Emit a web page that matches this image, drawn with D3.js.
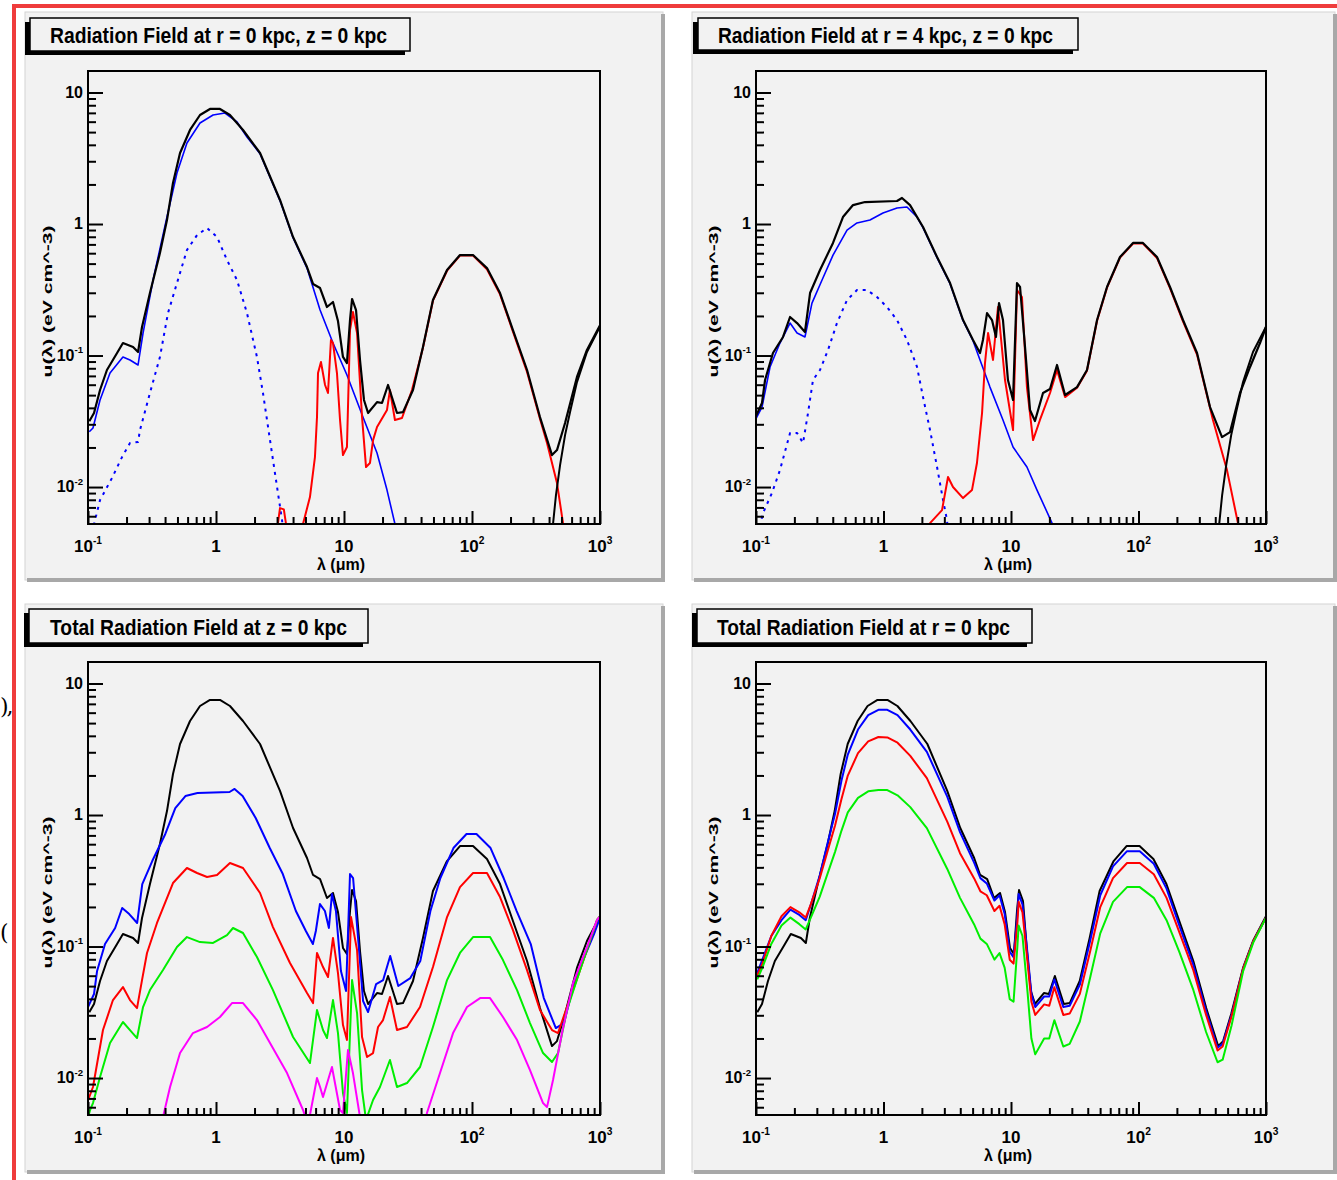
<!DOCTYPE html>
<html>
<head>
<meta charset="utf-8">
<script src="https://cdn.jsdelivr.net/npm/d3@7"></script>
<style>
  body { margin: 0; background: #fff; }
  svg text { font-family: "Liberation Sans Narrow", "Arial Narrow", "Liberation Sans", Arial, sans-serif; font-weight: bold; fill: #000; }
</style>
</head>
<body>
<script>
// All series: [log10 lambda (um), log10 u (eV cm^-3)]

// total field at r = 0 kpc, z = 0 kpc
var totalR0 = [[-0.99,-1.50],[-0.953,-1.437],[-0.906,-1.262],[-0.852,-1.110],[-0.773,-0.981],[-0.727,-0.905],[-0.648,-0.935],[-0.609,-0.973],[-0.578,-0.783],[-0.516,-0.525],[-0.438,-0.221],[-0.383,0.030],[-0.336,0.312],[-0.281,0.540],[-0.203,0.715],[-0.125,0.829],[-0.047,0.875],[0.031,0.875],[0.109,0.829],[0.211,0.715],[0.344,0.540],[0.500,0.183],[0.602,-0.099],[0.711,-0.327],[0.758,-0.456],[0.813,-0.487],[0.867,-0.631],[0.914,-0.593],[0.953,-0.738],[0.992,-1.011],[1.023,-1.057],[1.047,-0.730],[1.063,-0.570],[1.094,-0.654],[1.125,-1.034],[1.156,-1.338],[1.188,-1.437],[1.258,-1.354],[1.297,-1.361],[1.344,-1.224],[1.414,-1.437],[1.461,-1.430],[1.539,-1.262],[1.617,-0.935],[1.695,-0.578],[1.805,-0.350],[1.906,-0.236],[2.008,-0.236],[2.117,-0.335],[2.219,-0.525],[2.320,-0.806],[2.430,-1.110],[2.531,-1.468],[2.625,-1.757],[2.664,-1.719],[2.727,-1.513],[2.820,-1.163],[2.898,-0.958],[3.0,-0.77]];
var starsR0 = [[-0.99,-1.58],[-0.961,-1.551],[-0.906,-1.338],[-0.828,-1.133],[-0.727,-1.011],[-0.672,-1.034],[-0.609,-1.072],[-0.570,-0.829],[-0.492,-0.426],[-0.383,0.053],[-0.305,0.388],[-0.227,0.616],[-0.125,0.768],[-0.023,0.829],[0.070,0.844],[0.164,0.776],[0.242,0.662],[0.344,0.535],[0.500,0.178],[0.602,-0.104],[0.711,-0.335],[0.813,-0.654],[0.914,-0.905],[1.023,-1.148],[1.148,-1.468],[1.258,-1.741],[1.336,-2.023],[1.398,-2.281],[1.42,-2.37]];
var starsR0Dotted = [[-0.97,-2.35],[-0.906,-2.099],[-0.813,-1.932],[-0.734,-1.772],[-0.672,-1.665],[-0.609,-1.658],[-0.594,-1.567],[-0.516,-1.285],[-0.438,-1.011],[-0.375,-0.677],[-0.305,-0.449],[-0.227,-0.198],[-0.148,-0.084],[-0.070,-0.030],[0.008,-0.099],[0.086,-0.274],[0.164,-0.426],[0.242,-0.677],[0.320,-1.011],[0.367,-1.285],[0.422,-1.643],[0.477,-2.0],[0.516,-2.251],[0.53,-2.4]];
var dustR0 = [[0.46,-2.45],[0.484,-2.274],[0.50,-2.16],[0.53,-2.17],[0.55,-2.30],[0.57,-2.45],[0.66,-2.45],[0.680,-2.28],[0.734,-2.076],[0.773,-1.772],[0.789,-1.468],[0.797,-1.133],[0.820,-1.049],[0.852,-1.224],[0.875,-1.285],[0.898,-0.882],[0.914,-0.905],[0.945,-1.133],[0.969,-1.490],[0.992,-1.757],[1.023,-1.696],[1.047,-0.806],[1.070,-0.669],[1.102,-0.829],[1.141,-1.468],[1.172,-1.848],[1.203,-1.817],[1.227,-1.643],[1.258,-1.544],[1.281,-1.506],[1.336,-1.414],[1.359,-1.262],[1.398,-1.490],[1.453,-1.475],[1.531,-1.262],[1.617,-0.940],[1.695,-0.583],[1.805,-0.355],[1.906,-0.240],[2.008,-0.240],[2.117,-0.345],[2.219,-0.535],[2.320,-0.818],[2.430,-1.125],[2.531,-1.480],[2.586,-1.665],[2.664,-1.970],[2.711,-2.274],[2.74,-2.45]];
var cmb = [[2.62,-2.45],[2.633,-2.281],[2.656,-2.061],[2.688,-1.833],[2.727,-1.605],[2.766,-1.430],[2.820,-1.202],[2.898,-0.973],[3.0,-0.78]];

// r = 4 kpc, z = 0 kpc
var totalR4 = [[-1.0,-1.46],[-0.953,-1.361],[-0.929,-1.186],[-0.867,-0.981],[-0.788,-0.859],[-0.733,-0.707],[-0.678,-0.753],[-0.616,-0.821],[-0.576,-0.525],[-0.498,-0.350],[-0.396,-0.144],[-0.318,0.053],[-0.239,0.144],[-0.145,0.167],[0.106,0.175],[0.145,0.198],[0.208,0.144],[0.310,-0.023],[0.420,-0.251],[0.522,-0.449],[0.624,-0.730],[0.702,-0.882],[0.757,-0.981],[0.780,-0.882],[0.812,-0.677],[0.851,-0.730],[0.882,-0.859],[0.906,-0.601],[0.937,-0.730],[0.976,-1.186],[1.016,-1.338],[1.047,-0.449],[1.071,-0.479],[1.110,-0.935],[1.149,-1.414],[1.188,-1.498],[1.251,-1.285],[1.306,-1.255],[1.361,-1.072],[1.424,-1.300],[1.518,-1.240],[1.596,-1.110],[1.675,-0.730],[1.753,-0.479],[1.855,-0.251],[1.957,-0.144],[2.035,-0.144],[2.145,-0.251],[2.247,-0.479],[2.349,-0.730],[2.459,-0.981],[2.561,-1.392],[2.655,-1.620],[2.718,-1.582],[2.796,-1.285],[2.875,-1.087],[2.953,-0.905],[3.0,-0.783]];
var starsR4 = [[-1.0,-1.48],[-0.953,-1.392],[-0.890,-1.087],[-0.812,-0.905],[-0.733,-0.753],[-0.678,-0.829],[-0.616,-0.859],[-0.561,-0.601],[-0.482,-0.426],[-0.396,-0.236],[-0.286,-0.046],[-0.208,0.008],[-0.106,0.030],[-0.004,0.084],[0.106,0.122],[0.184,0.129],[0.263,0.053],[0.310,-0.028],[0.420,-0.256],[0.522,-0.454],[0.624,-0.735],[0.702,-0.887],[0.757,-1.034],[0.835,-1.240],[0.937,-1.490],[1.016,-1.696],[1.125,-1.848],[1.204,-2.023],[1.322,-2.274],[1.34,-2.38]];
var starsR4Dotted = [[-0.97,-2.3],[-0.945,-2.198],[-0.875,-2.046],[-0.812,-1.871],[-0.733,-1.589],[-0.678,-1.589],[-0.631,-1.665],[-0.592,-1.437],[-0.553,-1.186],[-0.498,-1.110],[-0.435,-0.958],[-0.365,-0.753],[-0.286,-0.578],[-0.208,-0.502],[-0.129,-0.502],[-0.051,-0.555],[0.027,-0.631],[0.106,-0.730],[0.184,-0.882],[0.263,-1.087],[0.310,-1.316],[0.365,-1.567],[0.420,-1.848],[0.467,-2.099],[0.498,-2.251],[0.51,-2.4]];
var dustR4 = [[0.33,-2.45],[0.365,-2.274],[0.459,-2.175],[0.506,-1.924],[0.545,-2.0],[0.624,-2.084],[0.694,-2.023],[0.733,-1.817],[0.773,-1.437],[0.796,-1.057],[0.820,-0.829],[0.859,-1.034],[0.898,-0.631],[0.953,-1.186],[1.016,-1.567],[1.047,-0.502],[1.086,-0.555],[1.125,-1.240],[1.173,-1.643],[1.227,-1.490],[1.306,-1.285],[1.361,-1.110],[1.424,-1.316],[1.518,-1.245],[1.596,-1.115],[1.675,-0.735],[1.753,-0.484],[1.855,-0.256],[1.957,-0.149],[2.035,-0.149],[2.145,-0.258],[2.247,-0.487],[2.349,-0.740],[2.459,-0.993],[2.584,-1.490],[2.694,-1.871],[2.780,-2.274],[2.80,-2.45]];

// totals at z = 0 for larger radii
var totalR8 = [[-1.0,-2.17],[-0.961,-2.068],[-0.883,-1.635],[-0.805,-1.407],[-0.727,-1.308],[-0.672,-1.407],[-0.617,-1.468],[-0.578,-1.255],[-0.539,-1.049],[-0.461,-0.821],[-0.336,-0.517],[-0.227,-0.403],[-0.148,-0.441],[-0.070,-0.471],[0.008,-0.456],[0.109,-0.365],[0.211,-0.403],[0.344,-0.593],[0.445,-0.852],[0.578,-1.125],[0.711,-1.354],[0.758,-1.430],[0.789,-1.049],[0.836,-1.156],[0.875,-1.232],[0.914,-0.935],[0.953,-1.202],[0.992,-1.597],[1.023,-1.711],[1.055,-0.776],[1.102,-1.027],[1.141,-1.688],[1.180,-1.840],[1.227,-1.810],[1.266,-1.612],[1.305,-1.559],[1.359,-1.384],[1.414,-1.635],[1.492,-1.612],[1.594,-1.460],[1.695,-1.156],[1.805,-0.776],[1.906,-0.548],[2.008,-0.441],[2.117,-0.441],[2.219,-0.624],[2.320,-0.875],[2.430,-1.179],[2.531,-1.483],[2.625,-1.635],[2.672,-1.658],[2.742,-1.460],[2.844,-1.179],[2.977,-0.798],[3.0,-0.77]];
var totalR12 = [[-1.0,-2.30],[-0.984,-2.243],[-0.961,-2.190],[-0.906,-1.992],[-0.828,-1.734],[-0.727,-1.574],[-0.672,-1.635],[-0.617,-1.696],[-0.570,-1.460],[-0.516,-1.331],[-0.414,-1.179],[-0.305,-1.004],[-0.227,-0.928],[-0.125,-0.966],[-0.023,-0.973],[0.086,-0.913],[0.133,-0.859],[0.211,-0.897],[0.320,-1.080],[0.445,-1.331],[0.602,-1.688],[0.734,-1.886],[0.789,-1.483],[0.836,-1.635],[0.867,-1.696],[0.914,-1.407],[0.953,-1.658],[0.992,-2.114],[1.023,-2.266],[1.063,-1.255],[1.102,-1.506],[1.141,-2.091],[1.172,-2.319],[1.227,-2.167],[1.281,-2.068],[1.359,-1.863],[1.414,-2.068],[1.492,-2.038],[1.594,-1.916],[1.695,-1.612],[1.805,-1.255],[1.906,-1.049],[2.008,-0.928],[2.141,-0.928],[2.242,-1.103],[2.352,-1.331],[2.453,-1.582],[2.555,-1.810],[2.625,-1.878],[2.672,-1.810],[2.742,-1.483],[2.844,-1.179],[2.977,-0.798],[3.0,-0.77]];
var totalR16 = [[-0.477,-2.6],[-0.414,-2.297],[-0.359,-2.068],[-0.281,-1.810],[-0.180,-1.658],[-0.070,-1.612],[0.031,-1.536],[0.125,-1.430],[0.211,-1.430],[0.320,-1.559],[0.422,-1.734],[0.555,-1.962],[0.680,-2.243],[0.719,-2.357],[0.789,-2.0],[0.813,-2.068],[0.836,-2.144],[0.906,-1.916],[0.969,-2.243],[0.992,-2.266],[1.031,-1.787],[1.070,-1.962],[1.125,-2.297],[1.156,-2.6],[1.594,-2.6],[1.648,-2.266],[1.750,-1.962],[1.852,-1.658],[1.961,-1.460],[2.063,-1.392],[2.141,-1.392],[2.242,-1.536],[2.352,-1.711],[2.453,-1.939],[2.555,-2.190],[2.586,-2.221],[2.633,-2.015],[2.703,-1.658],[2.789,-1.278],[2.898,-1.004],[2.977,-0.798],[3.0,-0.77]];

// totals at r = 0 above the plane
var totalZ1 = [[-0.99,-1.20],[-0.95,-1.10],[-0.88,-0.92],[-0.80,-0.80],[-0.73,-0.72],[-0.66,-0.76],[-0.61,-0.80],[-0.57,-0.68],[-0.50,-0.46],[-0.44,-0.22],[-0.38,0.01],[-0.33,0.26],[-0.28,0.46],[-0.20,0.65],[-0.12,0.76],[-0.04,0.80],[0.03,0.80],[0.11,0.76],[0.21,0.65],[0.34,0.48],[0.50,0.14],[0.60,-0.13],[0.71,-0.36],[0.76,-0.48],[0.81,-0.52],[0.87,-0.65],[0.91,-0.61],[0.95,-0.75],[0.99,-1.04],[1.02,-1.08],[1.05,-0.76],[1.06,-0.60],[1.09,-0.68],[1.13,-1.06],[1.16,-1.36],[1.19,-1.46],[1.26,-1.38],[1.30,-1.38],[1.34,-1.25],[1.41,-1.46],[1.46,-1.45],[1.54,-1.29],[1.62,-0.96],[1.70,-0.61],[1.80,-0.39],[1.91,-0.275],[2.01,-0.275],[2.12,-0.37],[2.22,-0.56],[2.32,-0.84],[2.43,-1.14],[2.53,-1.49],[2.62,-1.77],[2.66,-1.74],[2.73,-1.52],[2.82,-1.17],[2.90,-0.96],[3.0,-0.78]];
var totalZ2 = [[-0.99,-1.22],[-0.95,-1.13],[-0.88,-0.92],[-0.80,-0.77],[-0.73,-0.70],[-0.66,-0.74],[-0.61,-0.78],[-0.57,-0.68],[-0.50,-0.48],[-0.44,-0.28],[-0.38,-0.08],[-0.33,0.12],[-0.28,0.30],[-0.20,0.47],[-0.12,0.56],[-0.04,0.593],[0.03,0.59],[0.11,0.55],[0.21,0.45],[0.34,0.28],[0.50,-0.05],[0.60,-0.29],[0.71,-0.48],[0.76,-0.58],[0.81,-0.61],[0.87,-0.73],[0.91,-0.69],[0.95,-0.83],[0.99,-1.10],[1.02,-1.13],[1.05,-0.82],[1.06,-0.66],[1.09,-0.74],[1.13,-1.12],[1.16,-1.42],[1.19,-1.52],[1.26,-1.44],[1.30,-1.45],[1.34,-1.31],[1.41,-1.52],[1.46,-1.51],[1.54,-1.36],[1.62,-1.04],[1.70,-0.70],[1.80,-0.48],[1.91,-0.365],[2.01,-0.365],[2.12,-0.45],[2.22,-0.63],[2.32,-0.89],[2.43,-1.18],[2.53,-1.52],[2.62,-1.79],[2.66,-1.76],[2.73,-1.53],[2.82,-1.17],[2.90,-0.96],[3.0,-0.78]];
var totalZ3 = [[-0.99,-1.25],[-0.95,-1.16],[-0.88,-0.98],[-0.80,-0.84],[-0.73,-0.78],[-0.66,-0.83],[-0.61,-0.87],[-0.57,-0.78],[-0.50,-0.62],[-0.44,-0.45],[-0.38,-0.28],[-0.33,-0.12],[-0.28,0.02],[-0.20,0.13],[-0.12,0.18],[-0.04,0.19],[0.03,0.19],[0.11,0.15],[0.21,0.06],[0.34,-0.10],[0.50,-0.41],[0.60,-0.63],[0.71,-0.83],[0.76,-0.94],[0.81,-0.98],[0.87,-1.10],[0.91,-1.05],[0.95,-1.16],[0.99,-1.40],[1.02,-1.42],[1.05,-1.00],[1.06,-0.84],[1.09,-0.92],[1.13,-1.35],[1.16,-1.70],[1.19,-1.82],[1.26,-1.70],[1.30,-1.70],[1.34,-1.56],[1.41,-1.76],[1.46,-1.74],[1.54,-1.57],[1.62,-1.24],[1.70,-0.90],[1.80,-0.66],[1.91,-0.548],[2.01,-0.548],[2.12,-0.63],[2.22,-0.80],[2.32,-1.04],[2.43,-1.33],[2.53,-1.65],[2.62,-1.88],[2.66,-1.86],[2.73,-1.60],[2.82,-1.19],[2.90,-0.97],[3.0,-0.78]];

// axis ticks and labels
var xMajor = [0.1, 1, 10, 100, 1000];
var xLabels = ["10^-1", "1", "10", "10^2", "10^3"];
var yMajor = [0.01, 0.1, 1, 10];
var yLabels = ["10^-2", "10^-1", "1", "10"];
var titles = ["Radiation Field at r = 0 kpc, z = 0 kpc", "Radiation Field at r = 4 kpc, z = 0 kpc",
              "Total Radiation Field at z = 0 kpc", "Total Radiation Field at r = 0 kpc"];

var xMinor = [], yMinor = [];
[0.1, 1, 10, 100].forEach(function (d) { for (var k = 2; k < 10; k++) xMinor.push(d * k); });
[0.001, 0.01, 0.1, 1].forEach(function (d) { for (var k = 2; k < 10; k++) yMinor.push(d * k); });

var yDomain = [Math.pow(10, -2.281), Math.pow(10, 1.1635)];

// layout of the four pads
var panels = [
  { pad: [25, 12, 638, 568], frame: [88, 71, 600, 524], box: [30, 18, 380, 33], text: [50, 43, 337], yt: 52,
    series: [[starsR0Dotted, "#0000ff", 2, "3,5"], [starsR0, "#0000ff", 1.6], [dustR0, "#ff0000", 2], [cmb, "#000", 2], [totalR0, "#000", 2.2]] },
  { pad: [692, 12, 643, 568], frame: [756, 71, 1266, 524], box: [698, 18, 380, 32], text: [718, 43, 335], yt: 718,
    series: [[starsR4Dotted, "#0000ff", 2, "3,5"], [starsR4, "#0000ff", 1.6], [dustR4, "#ff0000", 2], [cmb, "#000", 2], [totalR4, "#000", 2.2]] },
  { pad: [25, 604, 638, 568], frame: [88, 662, 600, 1115], box: [29, 609, 339, 34], text: [50, 635, 297], yt: 52,
    series: [[totalR0, "#000", 2], [totalR4, "#0000ff", 2], [totalR8, "#ff0000", 2], [totalR12, "#00ee00", 2], [totalR16, "#ff00ff", 2]] },
  { pad: [692, 604, 643, 568], frame: [756, 662, 1266, 1115], box: [697, 609, 335, 34], text: [717, 635, 293], yt: 718,
    series: [[totalR0, "#000", 2], [totalZ1, "#0000ff", 2], [totalZ2, "#ff0000", 2], [totalZ3, "#00ee00", 2]] }
];

var svg = d3.select("body").append("svg")
    .attr("width", 1337)
    .attr("height", 1180);

// stray characters from the page beside the figure
svg.append("text").attr("x", 0).attr("y", 714)
    .style("font-family", "DejaVu Serif").style("font-weight", "normal").style("font-size", "22px")
    .style("letter-spacing", "-2px").text("),");
svg.append("text").attr("x", 0).attr("y", 940)
    .style("font-family", "DejaVu Serif").style("font-weight", "normal").style("font-size", "22px").text("(");

// label with optional superscript, "10^-1" style
function powLabel(g, x, y, str, anchor, size) {
  var parts = str.split("^");
  var t = g.append("text").attr("x", x).attr("y", y)
      .attr("text-anchor", anchor).style("font-size", size + "px");
  t.append("tspan").text(parts[0]);
  if (parts.length > 1) {
    t.append("tspan").attr("dy", -size * 0.45).style("font-size", (size * 0.6) + "px").text(parts[1]);
  }
}

panels.forEach(function (p, i) {
  var g = svg.append("g");

  // pad with bevel
  g.append("rect").attr("x", p.pad[0]).attr("y", p.pad[1]).attr("width", p.pad[2]).attr("height", p.pad[3])
      .attr("fill", "#f2f2f2").attr("stroke", "#d4d4d4").attr("stroke-width", 1);
  var px2 = p.pad[0] + p.pad[2], py2 = p.pad[1] + p.pad[3];
  g.append("path")
      .attr("d", "M" + (p.pad[0] + 2) + "," + py2 + "L" + px2 + "," + py2 + "L" + px2 + "," + (p.pad[1] + 2))
      .attr("fill", "none").attr("stroke", "#a8a8a8").attr("stroke-width", 4);

  var f = { left: p.frame[0], top: p.frame[1], right: p.frame[2], bottom: p.frame[3] };

  var x = d3.scaleLog().domain([0.1, 1000]).range([f.left, f.right]);
  var y = d3.scaleLog().domain(yDomain).range([f.bottom, f.top]);

  var line = d3.line()
      .x(function (d) { return x(Math.pow(10, d[0])); })
      .y(function (d) { return y(Math.pow(10, d[1])); });

  svg.append("clipPath").attr("id", "clip" + i)
    .append("rect").attr("x", f.left).attr("y", f.top)
      .attr("width", f.right - f.left).attr("height", f.bottom - f.top);

  // curves
  var lines = g.append("g").attr("clip-path", "url(#clip" + i + ")");
  p.series.forEach(function (s) {
    lines.append("path")
        .attr("d", line(s[0]))
        .attr("fill", "none")
        .attr("stroke", s[1])
        .attr("stroke-width", s[2])
        .attr("stroke-dasharray", s[3] || null)
        .attr("stroke-linejoin", "round");
  });

  // frame
  g.append("rect").attr("x", f.left).attr("y", f.top)
      .attr("width", f.right - f.left).attr("height", f.bottom - f.top)
      .attr("fill", "none").attr("stroke", "#000").attr("stroke-width", 2);

  // X axis, ticks pointing up
  var gx = g.append("g").attr("transform", "translate(0," + f.bottom + ")");
  gx.call(d3.axisBottom(x).tickValues(xMajor).tickSize(-13).tickSizeOuter(0).tickFormat(""));
  gx.select(".domain").remove();
  var gxm = g.append("g").attr("transform", "translate(0," + f.bottom + ")");
  gxm.call(d3.axisBottom(x).tickValues(xMinor).tickSize(-7).tickSizeOuter(0).tickFormat(""));
  gxm.select(".domain").remove();

  // Y axis, ticks pointing right
  var gy = g.append("g").attr("transform", "translate(" + f.left + ",0)");
  gy.call(d3.axisLeft(y).tickValues(yMajor).tickSize(-15).tickSizeOuter(0).tickFormat(""));
  gy.select(".domain").remove();
  var gym = g.append("g").attr("transform", "translate(" + f.left + ",0)");
  gym.call(d3.axisLeft(y).tickValues(yMinor.filter(function (v) { return v > yDomain[0] && v < yDomain[1]; }))
      .tickSize(-8).tickSizeOuter(0).tickFormat(""));
  gym.select(".domain").remove();
  g.selectAll(".tick line").attr("stroke", "#000").attr("stroke-width", 2);

  // tick labels
  xMajor.forEach(function (v, k) { powLabel(g, x(v), f.bottom + 28, xLabels[k], "middle", 17); });
  yMajor.forEach(function (v, k) { powLabel(g, f.left - 5, y(v) + 5, yLabels[k], "end", 16); });

  // axis titles
  g.append("text")
      .attr("x", (f.left + f.right) / 2 - 3)
      .attr("y", f.bottom + 46)
      .attr("text-anchor", "middle")
      .style("font-size", "16px")
      .text("λ (μm)");

  g.append("text")
      .attr("transform", "translate(" + p.yt + "," + ((f.top + f.bottom) / 2 + 4) + ") rotate(-90)")
      .attr("text-anchor", "middle")
      .attr("textLength", 152)
      .attr("lengthAdjust", "spacingAndGlyphs")
      .style("font-size", "13px")
      .text("u(λ) (eV cm^-3)");

  // title box with shadow
  g.append("rect").attr("x", p.box[0] - 5).attr("y", p.box[1] + 4)
      .attr("width", p.box[2]).attr("height", p.box[3]).attr("fill", "#000");
  g.append("rect").attr("x", p.box[0]).attr("y", p.box[1])
      .attr("width", p.box[2]).attr("height", p.box[3])
      .attr("fill", "#f2f2f2").attr("stroke", "#000").attr("stroke-width", 1.5);
  g.append("text")
      .attr("x", p.text[0]).attr("y", p.text[1])
      .attr("textLength", p.text[2])
      .attr("lengthAdjust", "spacingAndGlyphs")
      .style("font-size", "22px")
      .text(titles[i]);
});

// red outline of the cropped page
svg.append("rect").attr("x", 12).attr("y", 4).attr("width", 1325).attr("height", 4).attr("fill", "#ef3c3c");
svg.append("rect").attr("x", 12).attr("y", 4).attr("width", 4).attr("height", 1176).attr("fill", "#ef3c3c");
</script>
</body>
</html>
